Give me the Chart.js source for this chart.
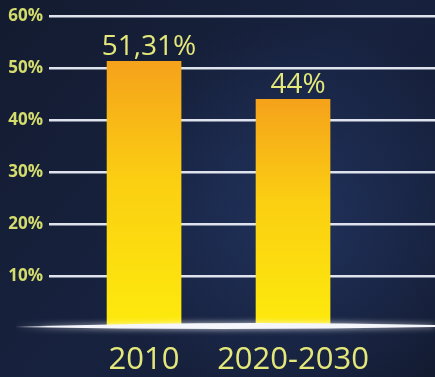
<!DOCTYPE html>
<html>
<head>
<meta charset="utf-8">
<script src="https://cdn.jsdelivr.net/npm/chart.js@4"></script>
<style>
  html, body { margin: 0; padding: 0; background: #141c32; }
  #wrap { width: 435px; height: 377px; }
</style>
</head>
<body>
<div id="wrap"><canvas id="chart" width="435" height="377"></canvas></div>
<script>
/* =========================
   DATA
========================= */
const categories = ["2010", "2020-2030"];
const positions = [1, 2];
const values = [51.31, 44];
const yTicks = [0, 10, 20, 30, 40, 50, 60];

const tickColor = "#d3dc6c";
const labelColor = "#e4e87a";

/* =========================
   PLUGINS
========================= */
const backdrop = {
  id: "backdrop",
  beforeDraw(chart) {
    const { ctx, width, height } = chart;
    ctx.save();
    const g = ctx.createLinearGradient(0, 0, width, height);
    g.addColorStop(0, "#131b2f");
    g.addColorStop(0.5, "#17223f");
    g.addColorStop(1, "#131b31");
    ctx.fillStyle = g;
    ctx.fillRect(0, 0, width, height);

    const r = ctx.createRadialGradient(300, 220, 10, 300, 220, 200);
    r.addColorStop(0, "rgba(40,62,115,0.55)");
    r.addColorStop(1, "rgba(40,62,115,0)");
    ctx.fillStyle = r;
    ctx.fillRect(0, 0, width, height);
    ctx.restore();
  }
};

const swoosh = {
  id: "swoosh",
  afterDatasetsDraw(chart) {
    const { ctx, chartArea } = chart;
    const y = chartArea.bottom - 2;
    ctx.save();
    ctx.shadowColor = "rgba(255,255,255,0.8)";
    ctx.shadowBlur = 6;
    ctx.fillStyle = "#f4f6fb";
    ctx.beginPath();
    ctx.moveTo(15, y + 1);
    ctx.quadraticCurveTo(220, y - 6, 435, y - 1);
    ctx.lineTo(435, y + 1);
    ctx.quadraticCurveTo(220, y + 5, 15, y + 1);
    ctx.closePath();
    ctx.fill();
    ctx.restore();
  }
};

const valueLabels = {
  id: "valueLabels",
  afterDatasetsDraw(chart) {
    const { ctx } = chart;
    const meta = chart.getDatasetMeta(0);
    ctx.save();
    ctx.fillStyle = labelColor;
    ctx.font = "28px 'Open Sans'";
    ctx.textAlign = "center";
    ctx.textBaseline = "alphabetic";
    meta.data.forEach((bar, i) => {
      const txt = String(values[i]).replace(".", ",") + "%";
      ctx.fillText(txt, bar.x + 5, bar.y - 6);
    });
    ctx.restore();
  }
};

/* =========================
   CHART
========================= */
const barFill = c => {
  const { chart } = c;
  const { ctx, chartArea, scales } = chart;
  if (!chartArea || !c.raw) return "#fcd80f";
  const top = scales.y.getPixelForValue(c.raw.y);
  const g = ctx.createLinearGradient(0, top, 0, chartArea.bottom);
  g.addColorStop(0, "#f5a21b");
  g.addColorStop(0.45, "#fbcf12");
  g.addColorStop(1, "#fdea0c");
  return g;
};

new Chart(document.getElementById("chart"), {
  type: "bar",
  data: {
    datasets: [{
      data: values.map((v, i) => ({ x: positions[i], y: v })),
      backgroundColor: barFill,
      borderWidth: 0,
      barThickness: 74
    }]
  },
  options: {
    responsive: false,
    animation: false,
    layout: { padding: { top: 15, left: 0, right: 0, bottom: 0 } },
    plugins: {
      legend: { display: false },
      tooltip: { enabled: false }
    },
    scales: {
      x: {
        type: "linear",
        offset: false,
        min: 0.362,
        max: 2.953,
        grid: { display: false, offset: false },
        border: { display: false },
        afterBuildTicks: s => { s.ticks = positions.map(v => ({ value: v })); },
        afterFit: s => { s.height = 49; },
        ticks: {
          color: labelColor,
          font: { family: "'Open Sans'", size: 31 },
          padding: 6,
          callback: v => categories[positions.indexOf(v)] || ""
        }
      },
      y: {
        min: 0,
        max: 60,
        afterBuildTicks: s => { s.ticks = yTicks.map(v => ({ value: v })); },
        afterFit: s => { s.width = 49; },
        border: { display: false },
        grid: {
          drawTicks: false,
          lineWidth: 2.5,
          color: c => (c.tick && c.tick.value === 0 ? "rgba(0,0,0,0)" : "#dfe3ee")
        },
        ticks: {
          color: tickColor,
          padding: 6,
          font: { family: "'Open Sans'", size: 17, weight: "bold" },
          callback: v => (v === 0 ? "" : v + "%")
        }
      }
    }
  },
  plugins: [backdrop, swoosh, valueLabels]
});
</script>
</body>
</html>
